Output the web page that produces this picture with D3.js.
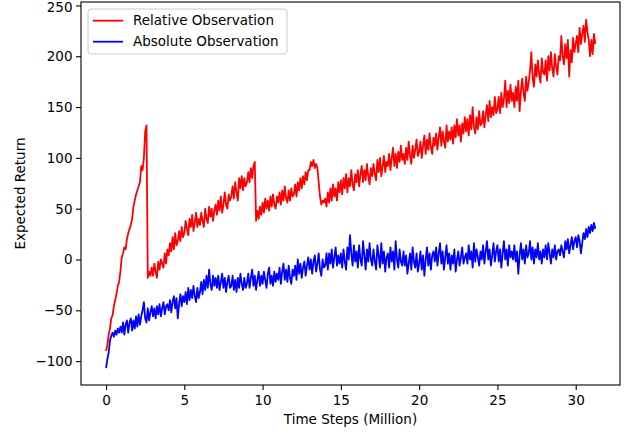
<!DOCTYPE html>
<html lang="en">
<head>
<meta charset="UTF-8">
<script src="https://d3js.org/d3.v7.min.js"></script>
<style>
    body { margin: 0; background: #fff; }
    text { font-family: "DejaVu Sans", sans-serif; fill: #000; }
</style>
</head>
<body>
<svg id="chart" width="635" height="443"></svg>
<script>
// sampling grid: 12 samples per million steps, 0 .. 31.25
const timeSteps = d3.range(0, 376).map(i => i / 12);

// one row per million steps
const relativeObs = [
    -90, -84, -74, -68, -58, -55, -46, -40, -34, -26, -22, -12,
    2, 6, 12, 10, 20, 26, 30, 34, 40, 52, 58, 64,
    68, 72, 76, 92, 88, 100, 126, 132, -18, -12, -16, -8,
    -16, -4, -12, -18, -2, -10, 0, -4, -8, 6, -4, 10,
    4, 16, 8, 22, 10, 26, 14, 18, 28, 18, 32, 22,
    26, 38, 30, 24, 40, 32, 44, 28, 36, 46, 32, 40,
    34, 46, 38, 32, 50, 40, 36, 52, 42, 50, 38, 48,
    54, 44, 58, 48, 62, 46, 54, 66, 54, 50, 64, 58,
    62, 72, 60, 76, 66, 58, 80, 70, 82, 68, 80, 72,
    76, 86, 76, 90, 80, 92, 96, 38, 48, 40, 52, 44,
    56, 46, 60, 50, 58, 48, 62, 52, 64, 54, 50, 62,
    56, 66, 54, 68, 58, 72, 60, 56, 68, 58, 70, 62,
    64, 74, 62, 76, 68, 80, 70, 82, 74, 86, 78, 88,
    88, 96, 92, 98, 90, 94, 90, 76, 62, 54, 58, 56,
    60, 52, 66, 56, 70, 58, 74, 62, 70, 58, 76, 66,
    78, 64, 80, 70, 84, 66, 80, 72, 88, 74, 68, 84,
    76, 88, 72, 84, 92, 76, 88, 78, 94, 82, 74, 90,
    82, 94, 84, 78, 98, 86, 100, 82, 92, 102, 86, 96,
    92, 104, 88, 100, 110, 92, 104, 90, 106, 96, 112, 98,
    104, 94, 110, 98, 116, 102, 94, 112, 100, 108, 118, 102,
    106, 116, 100, 112, 122, 104, 118, 108, 124, 110, 104, 120,
    112, 124, 108, 120, 130, 112, 126, 116, 110, 132, 116, 126,
    118, 130, 114, 132, 120, 138, 122, 132, 116, 134, 124, 140,
    126, 138, 122, 142, 128, 150, 130, 124, 140, 128, 146, 132,
    134, 146, 130, 142, 152, 136, 156, 140, 150, 142, 160, 144,
    148, 160, 144, 164, 150, 158, 176, 150, 166, 154, 172, 156,
    164, 150, 170, 156, 176, 146, 166, 178, 164, 156, 180, 166,
    174, 186, 204, 178, 170, 192, 180, 196, 182, 174, 198, 184,
    182, 196, 176, 200, 186, 204, 188, 180, 202, 190, 182, 200,
    196, 220, 200, 192, 212, 198, 216, 180, 206, 194, 218, 204,
    212, 220, 204, 228, 212, 222, 230, 214, 236, 224, 216, 200,
    216, 202, 222, 212
];

const absoluteObs = [
    -107, -98, -92, -80, -75, -72, -76, -70, -74, -68, -72, -66,
    -72, -62, -74, -64, -60, -72, -62, -58, -70, -60, -68, -56,
    -66, -54, -64, -56, -50, -42, -58, -62, -48, -60, -52, -46,
    -56, -48, -58, -46, -54, -44, -56, -48, -42, -54, -46, -44,
    -50, -40, -52, -42, -36, -48, -38, -58, -44, -34, -46, -36,
    -42, -32, -44, -28, -40, -30, -38, -26, -36, -42, -28, -38,
    -32, -22, -34, -20, -30, -16, -28, -10, -24, -30, -16, -26,
    -18, -28, -16, -30, -22, -14, -28, -18, -32, -22, -16, -28,
    -26, -16, -30, -20, -32, -18, -28, -14, -24, -30, -18, -28,
    -24, -14, -28, -18, -10, -26, -16, -30, -20, -12, -26, -16,
    -24, -12, -20, -28, -14, -8, -24, -16, -26, -12, -22, -14,
    -20, -8, -24, -12, -4, -20, -10, -22, -6, -18, -24, -10,
    -16, -6, -20, 0, -14, -4, -18, -8, -2, -16, -6, 2,
    -10, 0, -14, -2, 4, -12, -4, 6, -10, -16, 0, -8,
    -6, 6, -10, 6, -4, 10, -8, 2, 12, -6, 4, -4,
    6, -8, 10, -2, -10, 12, 0, 24, 6, -6, 14, -2,
    8, -8, 14, 0, -6, 18, 4, -10, 10, -2, 16, 0,
    -6, 10, -2, -10, 14, 4, -8, 16, -4, 8, -12, 2,
    6, -8, 12, -2, 8, -10, 18, 0, -8, 10, -2, -6,
    8, -6, 4, -14, -4, 6, -10, 12, -2, -8, 6, -12,
    -4, 8, -10, 4, -16, 0, 12, -6, 6, -10, 4, 8,
    -2, 12, -6, 6, 16, -4, 8, -10, 2, 14, -4, 6,
    -10, 4, -4, 10, -12, 0, 8, -6, 2, 12, -4, 2,
    6, -4, 14, 0, 8, -8, 16, -2, 10, 2, -6, 8,
    0, 14, -4, 8, 18, 0, 10, -6, 4, 16, -2, 8,
    14, -2, 10, -8, 6, 18, 0, 10, -6, 14, 2, 8,
    0, 14, -2, 8, -14, 4, 16, 0, 10, -4, 14, 2,
    6, 18, 0, 12, -4, 10, 2, 16, 0, 8, -4, 10,
    2, 14, 0, 16, 6, -4, 10, 2, 14, 0, 8, 10,
    4, 14, 8, 2, 18, 10, 20, 6, 14, 22, 10, 18,
    22, 12, 24, 18, 6, 16, 26, 20, 30, 22, 32, 26,
    34, 28, 36, 30
];

const xTicks = [0, 5, 10, 15, 20, 25, 30];
const yTicks = [-100, -50, 0, 50, 100, 150, 200, 250];
const seriesNames = ["Relative Observation", "Absolute Observation"];
const seriesColors = ["#ff0000", "#0000ff"];

const width = 635, height = 443;
const margin = { top: 2, right: 15, bottom: 58, left: 81 };
const fontSize = "13.5px";

const svg = d3.select("#chart")
    .attr("width", width)
    .attr("height", height);

const x = d3.scaleLinear()
    .domain([-1.6, 32.83])
    .range([margin.left, width - margin.right]);

const y = d3.scaleLinear()
    .domain([-123.5, 253.4])
    .range([height - margin.bottom, margin.top]);

// axes (matplotlib look: outward ticks, full frame)
const xAxis = svg.append("g")
    .attr("transform", `translate(0,${height - margin.bottom})`)
    .call(d3.axisBottom(x).tickValues(xTicks).tickSize(5).tickSizeOuter(0).tickPadding(5));
xAxis.select(".domain").remove();

const yAxis = svg.append("g")
    .attr("transform", `translate(${margin.left},0)`)
    .call(d3.axisLeft(y).tickValues(yTicks).tickSize(5).tickSizeOuter(0).tickPadding(3.5)
        .tickFormat(d => d < 0 ? "\u2212" + Math.abs(d) : d));
yAxis.select(".domain").remove();

svg.selectAll(".tick line").attr("stroke", "#000").attr("stroke-width", 1.1);
svg.selectAll(".tick text")
    .style("font-size", fontSize)
    .style("font-family", "'DejaVu Sans', sans-serif")
    .attr("fill", "#000");

// top label sits right on the edge, keep it inside the page
yAxis.selectAll(".tick text").filter(d => d === 250).attr("dy", "0.42em");

// lines
const line = d3.line()
    .x((d, i) => x(timeSteps[i]))
    .y(d => y(d));

[relativeObs, absoluteObs].forEach((series, k) => {
    svg.append("path")
        .datum(series)
        .attr("fill", "none")
        .attr("stroke", seriesColors[k])
        .attr("stroke-width", 1.8)
        .attr("stroke-linejoin", "round")
        .attr("d", line);
});

// frame
svg.append("rect")
    .attr("x", margin.left)
    .attr("y", margin.top)
    .attr("width", width - margin.left - margin.right)
    .attr("height", height - margin.top - margin.bottom)
    .attr("fill", "none")
    .attr("stroke", "#000")
    .attr("stroke-width", 1.1);

// axis labels
svg.append("text")
    .attr("x", (margin.left + width - margin.right) / 2)
    .attr("y", 424)
    .attr("text-anchor", "middle")
    .style("font-size", fontSize)
    .text("Time Steps (Million)");

svg.append("text")
    .attr("transform", `translate(25,${(margin.top + height - margin.bottom) / 2}) rotate(-90)`)
    .attr("text-anchor", "middle")
    .style("font-size", fontSize)
    .text("Expected Return");

// legend
const legend = svg.append("g");
legend.append("rect")
    .attr("x", 88).attr("y", 9)
    .attr("width", 199).attr("height", 45)
    .attr("rx", 3)
    .attr("fill", "#fff")
    .attr("fill-opacity", 0.8)
    .attr("stroke", "#ccc");

seriesNames.forEach((name, i) => {
    const ly = 20.7 + i * 21;
    legend.append("line")
        .attr("x1", 93).attr("x2", 123)
        .attr("y1", ly).attr("y2", ly)
        .attr("stroke", seriesColors[i])
        .attr("stroke-width", 1.8);
    legend.append("text")
        .attr("x", 133)
        .attr("y", ly)
        .attr("dy", "0.35em")
        .style("font-size", fontSize)
        .text(name);
});
</script>
</body>
</html>
